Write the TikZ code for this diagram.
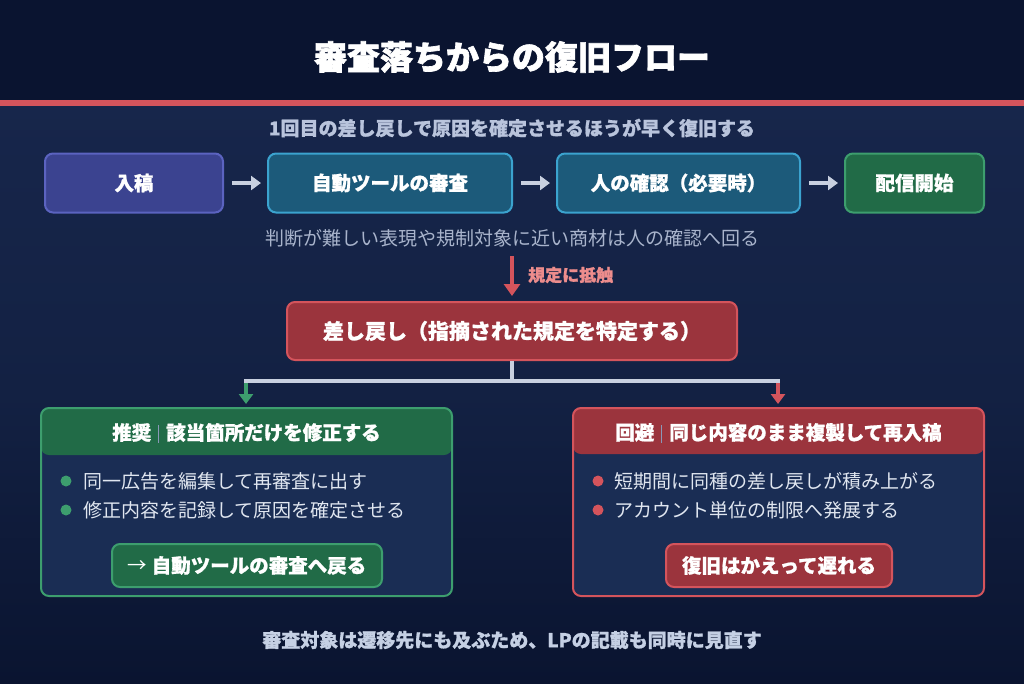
\documentclass[tikz,border=0pt]{standalone}
\usepackage{fontspec}
\setmainfont{Noto Sans CJK JP}[BoldFeatures={FakeBold=1}]
\newfontfamily\heavyfont{Noto Sans CJK JP}[BoldFeatures={FakeBold=2}]
\usetikzlibrary{arrows.meta}
\definecolor{hdrbg}{HTML}{0A1430}
\definecolor{bgtop}{HTML}{17264B}
\definecolor{bgmid}{HTML}{132143}
\definecolor{bgbot}{HTML}{0A1430}
\definecolor{redline}{HTML}{D4545C}
\definecolor{subc}{HTML}{B9C4DC}
\definecolor{notec}{HTML}{A9B4CC}
\definecolor{footc}{HTML}{C5D0E4}
\definecolor{arrc}{HTML}{C8D0E0}
\definecolor{purF}{HTML}{3B4390}
\definecolor{purB}{HTML}{5B63C0}
\definecolor{bluF}{HTML}{1C5A7A}
\definecolor{bluB}{HTML}{3BA3CF}
\definecolor{grnF}{HTML}{216B47}
\definecolor{grnB}{HTML}{3D9E6E}
\definecolor{redF}{HTML}{9B343D}
\definecolor{redB}{HTML}{D4545C}
\definecolor{pnlF}{HTML}{1A2D54}
\definecolor{itemc}{HTML}{E0E6F0}
\definecolor{lblred}{HTML}{EC8C8C}
\definecolor{sepc}{HTML}{8A98B8}
\begin{document}
\begin{tikzpicture}[x=1pt,y=-1pt,
  flowbox/.style={draw,line width=2pt,rounded corners=8pt,minimum height=59pt,text=white,font=\fontsize{19.5}{23}\selectfont\bfseries,inner sep=0pt},
  flowarr/.style={draw=arrc,line width=4.5pt,-{Triangle[length=10pt,width=14pt]},shorten <=8pt,shorten >=6pt},
  panel/.style={draw,line width=2pt,rounded corners=8pt,fill=pnlF,inner sep=0pt},
  hdrtext/.style={text=white,font=\fontsize{19.5}{23}\selectfont\bfseries},
  itemtext/.style={anchor=west,text=itemc,font=\fontsize{19}{23}\selectfont,inner sep=0pt},
  bullet/.style={circle,minimum size=11pt,inner sep=0pt},
  btn/.style={draw,line width=2pt,rounded corners=8pt,minimum height=43pt,text=white,font=\fontsize{19.5}{23}\selectfont\bfseries,inner sep=0pt},
]
% background
\shade[top color=bgtop,bottom color=bgbot,middle color=bgmid] (0,100) rectangle (1024,683);
\fill[hdrbg] (0,0) rectangle (1024,100);
\fill[redline] (0,100) rectangle (1024,106);
\useasboundingbox (0,0) rectangle (1024,683);

% title
\node[text=white,font=\heavyfont\fontsize{33}{38}\selectfont\bfseries] (title) at (512,57) {審査落ちからの復旧フロー};
\node[text=subc,font=\fontsize{19}{22}\selectfont\bfseries] (sub) at (512,128) {1回目の差し戻しで原因を確定させるほうが早く復旧する};

% flow row
\node[flowbox,fill=purF,draw=purB,minimum width=178pt] (n1) at (134,183) {入稿};
\node[flowbox,fill=bluF,draw=bluB,minimum width=244pt] (n2) at (390,183) {自動ツールの審査};
\node[flowbox,fill=bluF,draw=bluB,minimum width=243pt] (n3) at (678.5,183) {人の確認（必要時）};
\node[flowbox,fill=grnF,draw=grnB,minimum width=139pt] (n4) at (914.5,183) {配信開始};
\draw[flowarr] (n1.east) -- (n2.west);
\draw[flowarr] (n2.east) -- (n3.west);
\draw[flowarr] (n3.east) -- (n4.west);

\node[text=notec,font=\fontsize{19}{22}\selectfont] (note) at (512,238) {判断が難しい表現や規制対象に近い商材は人の確認へ回る};

% red arrow to send-back
\coordinate (rs) at (512,256);
\node[flowbox,fill=redF,draw=redB,minimum width=450pt,minimum height=58pt,font=\fontsize{21}{25}\selectfont\bfseries] (rb) at (512,331) {差し戻し（指摘された規定を特定する）};
\draw[draw=redB,line width=4.5pt,-{Triangle[length=12pt,width=16pt]},shorten >=5pt] (rs) -- (rb.north);
\node[anchor=west,text=lblred,font=\fontsize{17}{20}\selectfont\bfseries,inner sep=0pt] (lbl) at (528,275) {規定に抵触};

% branch connector
\coordinate (jc) at (512,381);
\coordinate (jl) at (246,381);
\coordinate (jr) at (778,381);
\draw[arrc,line width=4pt] (rb.south) -- (jc);
\draw[arrc,line width=4pt] ([xshift=-2pt]jl) -- ([xshift=2pt]jr);

% panels
\node[panel,draw=grnB,minimum width=411pt,minimum height=188pt,
  path picture={\fill[grnF] (path picture bounding box.north west) rectangle ([yshift=-47pt]path picture bounding box.north east);}] (pL) at (246.5,502) {};
\node[panel,draw=redB,minimum width=411pt,minimum height=188pt,
  path picture={\fill[redF] (path picture bounding box.north west) rectangle ([yshift=-46pt]path picture bounding box.north east);}] (pR) at (778.5,502) {};
\draw[draw=grnB,line width=4.5pt,-{Triangle[length=10pt,width=14pt]},shorten >=3pt] ([yshift=-2pt]jl) -- (pL.north -| jl);
\draw[draw=redB,line width=4.5pt,-{Triangle[length=10pt,width=14pt]},shorten >=3pt] ([yshift=-2pt]jr) -- (pR.north -| jr);

\node[hdrtext] (hL) at (246.5,433) {推奨\hspace{7pt}\textcolor{sepc}{\rule[-3pt]{1pt}{18pt}}\hspace{7pt}該当箇所だけを修正する};
\node[hdrtext] (hR) at (778.5,433) {回避\hspace{7pt}\textcolor{sepc}{\rule[-3pt]{1pt}{18pt}}\hspace{7pt}同じ内容のまま複製して再入稿};

\node[bullet,fill=grnB] (bL1) at (66,481) {};
\node[itemtext] (tL1) at (83,481) {同一広告を編集して再審査に出す};
\node[bullet,fill=grnB] (bL2) at (66,510) {};
\node[itemtext] (tL2) at (83,510) {修正内容を記録して原因を確定させる};

\node[bullet,fill=redB] (bR1) at (598,481) {};
\node[itemtext] (tR1) at (614,481) {短期間に同種の差し戻しが積み上がる};
\node[bullet,fill=redB] (bR2) at (598,510) {};
\node[itemtext] (tR2) at (614,510) {アカウント単位の制限へ発展する};

\node[btn,fill=grnF,draw=grnB,minimum width=270pt] (bbL) at (247,565.5) {{\mdseries →} 自動ツールの審査へ戻る};
\node[btn,fill=redF,draw=redB,minimum width=226pt] (bbR) at (779,565.5) {復旧はかえって遅れる};

% footer
\node[text=footc,font=\fontsize{19}{22}\selectfont\bfseries] (foot) at (512,640) {審査対象は遷移先にも及ぶため、LPの記載も同時に見直す};
\end{tikzpicture}
\end{document}
